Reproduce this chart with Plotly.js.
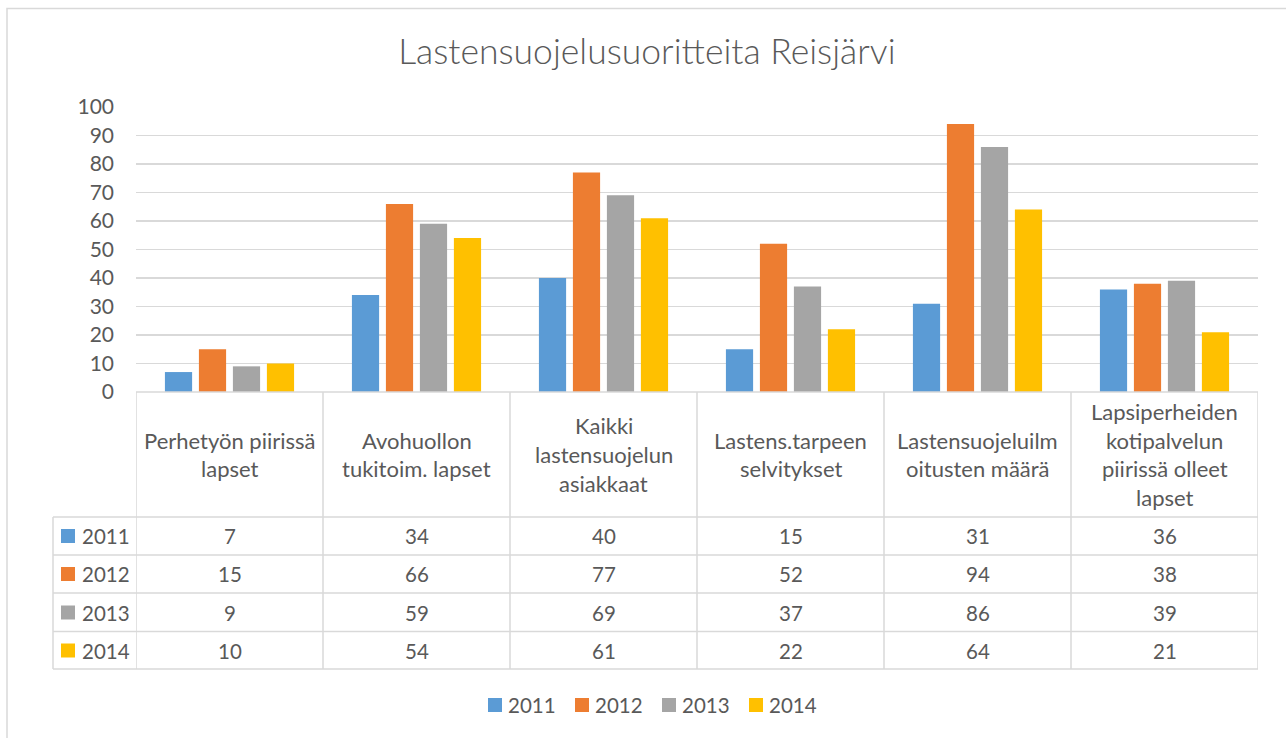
<!DOCTYPE html>
<html>
<head>
<meta charset="utf-8">
<script src="https://cdn.plot.ly/plotly-3.0.1.min.js"></script>
<style>html,body{margin:0;padding:0;background:#fff;}#chart{width:1286px;height:738px;}</style>
</head>
<body>
<div id="chart"></div>
<script>
// ---- data ----
const categories = [
  "Perhetyön piirissä<br>lapset",
  "Avohuollon<br>tukitoim. lapset",
  "Kaikki<br>lastensuojelun<br>asiakkaat",
  "Lastens.tarpeen<br>selvitykset",
  "Lastensuojeluilm<br>oitusten määrä",
  "Lapsiperheiden<br>kotipalvelun<br>piirissä olleet<br>lapset"
];
const seriesNames = ["2011", "2012", "2013", "2014"];
const v2011 = [7, 34, 40, 15, 31, 36];
const v2012 = [15, 66, 77, 52, 94, 38];
const v2013 = [9, 59, 69, 37, 86, 39];
const v2014 = [10, 54, 61, 22, 64, 21];
const yTicks = [0, 10, 20, 30, 40, 50, 60, 70, 80, 90, 100];
const chartTitle = "Lastensuojelusuoritteita Reisjärvi";

const seriesValues = [v2011, v2012, v2013, v2014];
const colors = ["#5B9BD5", "#ED7D31", "#A5A5A5", "#FFC000"];

// ---- layout helpers (pixel -> paper) ----
const W = 1286, H = 738;
const L = 136, R = 1258, T = 107, B = 392;
const px = p => (p - L) / (R - L);
const py = p => (B - p) / (B - T);
const FONT = "Lato, 'Open Sans', sans-serif";
const TXT = "#595959";
const LINE = "#D9D9D9";

const traces = seriesNames.map((n, i) => ({
  type: "bar",
  name: n,
  x: categories,
  y: seriesValues[i],
  marker: {color: colors[i]},
  hoverinfo: "skip",
  showlegend: false
}));

const shapes = [];
const annotations = [];

// outer chart border
shapes.push({type: "rect", xref: "paper", yref: "paper",
  x0: px(7), x1: px(1300), y0: py(8.5), y1: py(760),
  line: {color: LINE, width: 1.5}, fillcolor: "rgba(0,0,0,0)", layer: "below"});

// table: top line (axis)
shapes.push({type: "line", xref: "paper", yref: "paper", x0: 0, x1: 1, y0: py(392), y1: py(392),
  line: {color: LINE, width: 1.5}});
// row lines
const rowLines = [517, 555, 593, 631.5, 669];
rowLines.forEach(r => shapes.push({type: "line", xref: "paper", yref: "paper",
  x0: px(53), x1: 1, y0: py(r), y1: py(r), line: {color: LINE, width: 1.5}}));
// column lines at category boundaries
for (let i = 0; i <= categories.length; i++) {
  shapes.push({type: "line", xref: "x", yref: "paper", x0: i - 0.5, x1: i - 0.5,
    y0: py(392), y1: py(669), line: {color: LINE, width: 1.5}});
}
// left edge of row-header column
shapes.push({type: "line", xref: "paper", yref: "paper", x0: px(53), x1: px(53),
  y0: py(517), y1: py(669), line: {color: LINE, width: 1.5}});

// category labels (one annotation per line for Excel-like line spacing)
categories.forEach((c, i) => {
  const lines = c.split("<br>");
  const n = lines.length;
  lines.forEach((ln, k) => {
    const yc = 454.5 + (k - (n - 1) / 2) * 28.7;
    annotations.push({xref: "x", yref: "paper", x: i, y: py(yc), text: ln,
      showarrow: false, xanchor: "center", yanchor: "middle",
      font: {family: FONT, size: 22, color: TXT}});
  });
});

// table values and row headers
const rowCenters = [536, 574, 612.5, 650.5];
seriesNames.forEach((n, s) => {
  const yc = rowCenters[s];
  seriesValues[s].forEach((v, i) => {
    annotations.push({xref: "x", yref: "paper", x: i, y: py(yc), text: String(v),
      showarrow: false, xanchor: "center", yanchor: "middle",
      font: {family: FONT, size: 20.5, color: TXT}});
  });
  shapes.push({type: "rect", xref: "paper", yref: "paper",
    x0: px(61), x1: px(75), y0: py(yc - 7), y1: py(yc + 7),
    line: {width: 0}, fillcolor: colors[s]});
  annotations.push({xref: "paper", yref: "paper", x: px(80), y: py(yc), text: n,
    showarrow: false, xanchor: "left", yanchor: "middle",
    font: {family: FONT, size: 20.5, color: TXT}});
});

// bottom legend (Excel style: small square + label)
const legendX = [488, 575, 662, 749];
seriesNames.forEach((n, s) => {
  const x0 = legendX[s];
  shapes.push({type: "rect", xref: "paper", yref: "paper",
    x0: px(x0), x1: px(x0 + 14), y0: py(705 - 7), y1: py(705 + 7),
    line: {width: 0}, fillcolor: colors[s]});
  annotations.push({xref: "paper", yref: "paper", x: px(x0 + 18), y: py(705), text: n,
    showarrow: false, xanchor: "left", yanchor: "middle",
    font: {family: FONT, size: 20.5, color: TXT}});
});

const layout = {
  width: W, height: H,
  margin: {l: L, r: W - R, t: T, b: H - B, pad: 0},
  paper_bgcolor: "#fff", plot_bgcolor: "#fff",
  title: {text: chartTitle, font: {family: FONT, size: 35.5, color: TXT, weight: 300},
    x: 0.503, xref: "container", xanchor: "center",
    y: 1 - 52 / H, yref: "container", yanchor: "middle"},
  barmode: "group", bargap: 0.273, bargroupgap: 0.2,
  xaxis: {type: "category", range: [-0.5, 5.5], showticklabels: false, showgrid: false,
    zeroline: false, showline: false, ticks: "", fixedrange: true},
  yaxis: {range: [0, 100], tickvals: yTicks, ticktext: yTicks.map(String),
    showgrid: true, gridcolor: LINE, gridwidth: 1.5, zeroline: false, showline: false,
    ticks: "", ticklabelstandoff: 21,
    tickfont: {family: FONT, size: 21, color: TXT}, fixedrange: true},
  showlegend: false,
  shapes: shapes,
  annotations: annotations,
  hovermode: false
};

Plotly.newPlot("chart", traces, layout, {displayModeBar: false, staticPlot: true});
</script>
</body>
</html>
